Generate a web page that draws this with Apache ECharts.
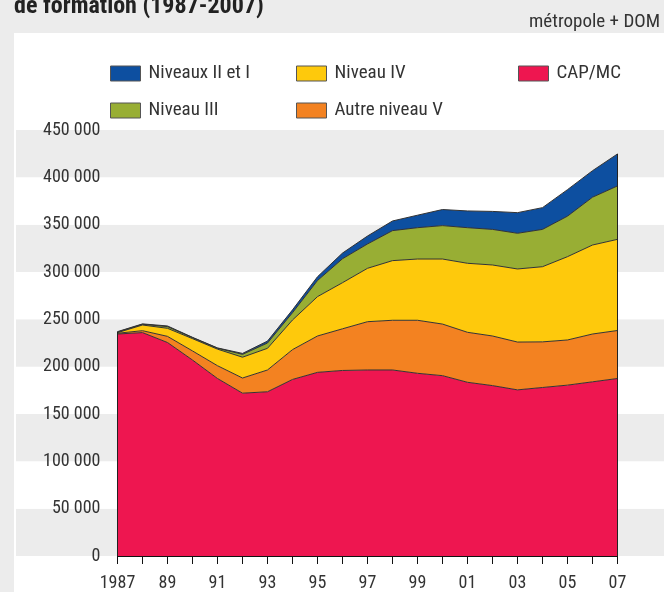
<!DOCTYPE html>
<html><head><meta charset="utf-8">
<script src="https://cdn.jsdelivr.net/npm/echarts@6/dist/echarts.min.js"></script>
<style>html,body{margin:0;padding:0;background:#ececec}#c{width:664px;height:592px}</style>
</head><body><div id="c"></div>
<script>
const years = ['1987','1988','1989','1990','1991','1992','1993','1994','1995','1996','1997','1998','1999','2000','2001','2002','2003','2004','2005','2006','2007'];
const xTickLabels = ['1987','89','91','93','95','97','99','01','03','05','07'];
const yTickLabels = ['0','50 000','100 000','150 000','200 000','250 000','300 000','350 000','400 000','450 000'];

const capMC        = [234500,236000,225500,207000,187500,172000,173500,186500,194000,196000,196500,196500,193000,190500,183500,180000,175500,178000,180500,184000,187500];
const autreNiveauV = [800,2000,6500,9600,13500,16000,23000,31500,38400,44000,51000,52500,56000,54500,52800,52400,50500,48200,47700,50500,50700];
const niveauIV     = [600,6000,8500,13000,17500,22000,22900,31300,41600,48700,56400,63000,64700,68700,72900,75000,77200,79400,88000,94000,96300];
const niveauIII    = [700,800,1800,1000,1000,3000,5600,7700,17000,25300,25700,31700,33100,35300,37600,37600,37700,39400,42800,50500,56400];
const niveauxIIetI = [400,400,700,400,300,1000,2000,3000,4000,6000,8400,10200,13200,17000,17700,19000,21800,23000,28000,28000,33800];

const FONT = "'Liberation Sans Narrow','Roboto Condensed','DejaVu Sans Condensed',sans-serif";
const TXT = '#333';

const totals = years.map((_, i) => capMC[i] + autreNiveauV[i] + niveauIV[i] + niveauIII[i] + niveauxIIetI[i]);
const last = years.length - 1;

function mk(name, data, color, extra) {
  return Object.assign({
    name, type: 'line', stack: 'total', data,
    symbol: 'none', showSymbol: false, silent: true, animation: false,
    xAxisIndex: 0, yAxisIndex: 0,
    lineStyle: { color: '#333', width: 1 },
    itemStyle: { color },
    areaStyle: { color, opacity: 1 },
    emphasis: { disabled: true }
  }, extra || {});
}

const legendBase = {
  padding: 0, icon: 'rect', itemWidth: 30, itemHeight: 15, selectedMode: false,
  itemStyle: { borderColor: '#555', borderWidth: 1 },
  textStyle: { fontFamily: FONT, fontSize: 19, color: TXT, padding: [0, 0, 0, 3] }
};
function lg(name, left, top) { return Object.assign({}, legendBase, { data: [name], left, top }); }

const chart = echarts.init(document.getElementById('c'));
chart.setOption({
  animation: false,
  backgroundColor: '#ececec',
  graphic: [{ type: 'rect', z: -1, silent: true, left: 14, top: 33, shape: { width: 650, height: 559 }, style: { fill: '#ffffff' } }],
  title: [
    { text: 'de formation (1987-2007)', left: 14, top: -5, padding: 0,
      textStyle: { fontFamily: FONT, fontSize: 24, fontWeight: 'bold', color: '#222' } },
    { text: 'métropole + DOM', right: 4, top: 13, padding: 0,
      textStyle: { fontFamily: FONT, fontSize: 19, fontWeight: 'normal', color: TXT } }
  ],
  legend: [
    lg('Niveaux II et I', 110, 64),
    lg('Niveau III', 110, 101),
    lg('Niveau IV', 296, 64),
    lg('Autre niveau V', 296, 101),
    lg('CAP/MC', 518, 64)
  ],
  grid: [
    { left: 117.5, width: 500, top: 130, height: 426 },
    { left: 16, right: 0, top: 130, height: 426 }
  ],
  xAxis: [
    { type: 'category', gridIndex: 0, data: years, boundaryGap: false,
      axisLine: { show: true, lineStyle: { color: '#111', width: 1 } },
      axisTick: { show: true, interval: 0, length: 8, lineStyle: { color: '#111' } },
      axisLabel: { interval: 0, margin: 18, fontFamily: FONT, fontSize: 18, color: TXT,
        formatter: (v, i) => (i % 2 === 0 ? xTickLabels[i / 2] : '') },
      splitLine: { show: false } },
    { type: 'value', gridIndex: 1, min: 0, max: 1, show: false }
  ],
  yAxis: [
    { type: 'value', gridIndex: 0, min: 0, max: 450000, interval: 50000,
      axisLine: { show: false }, axisTick: { show: false }, splitLine: { show: false },
      axisLabel: { margin: 17, fontFamily: FONT, fontSize: 18, color: TXT,
        formatter: v => yTickLabels[Math.round(v / 50000)] } },
    { type: 'value', gridIndex: 1, min: 0, max: 450000, interval: 50000,
      axisLine: { show: false }, axisTick: { show: false }, axisLabel: { show: false },
      splitLine: { show: false },
      splitArea: { show: true, areaStyle: { color: ['#ececec', '#ffffff'] } } }
  ],
  series: [
    mk('CAP/MC', capMC, '#ee1650'),
    mk('Autre niveau V', autreNiveauV, '#f38221'),
    mk('Niveau IV', niveauIV, '#fec90c'),
    mk('Niveau III', niveauIII, '#98ae34'),
    mk('Niveaux II et I', niveauxIIetI, '#0d4fa0', {
      markLine: {
        silent: true, symbol: 'none', animation: false,
        label: { show: false },
        lineStyle: { color: '#222', width: 1, type: 'solid' },
        emphasis: { disabled: true },
        data: [
          [{ coord: [years[0], 0] }, { coord: [years[0], totals[0]] }],
          [{ coord: [years[last], 0] }, { coord: [years[last], totals[last]] }]
        ]
      }
    })
  ]
});
</script></body></html>
